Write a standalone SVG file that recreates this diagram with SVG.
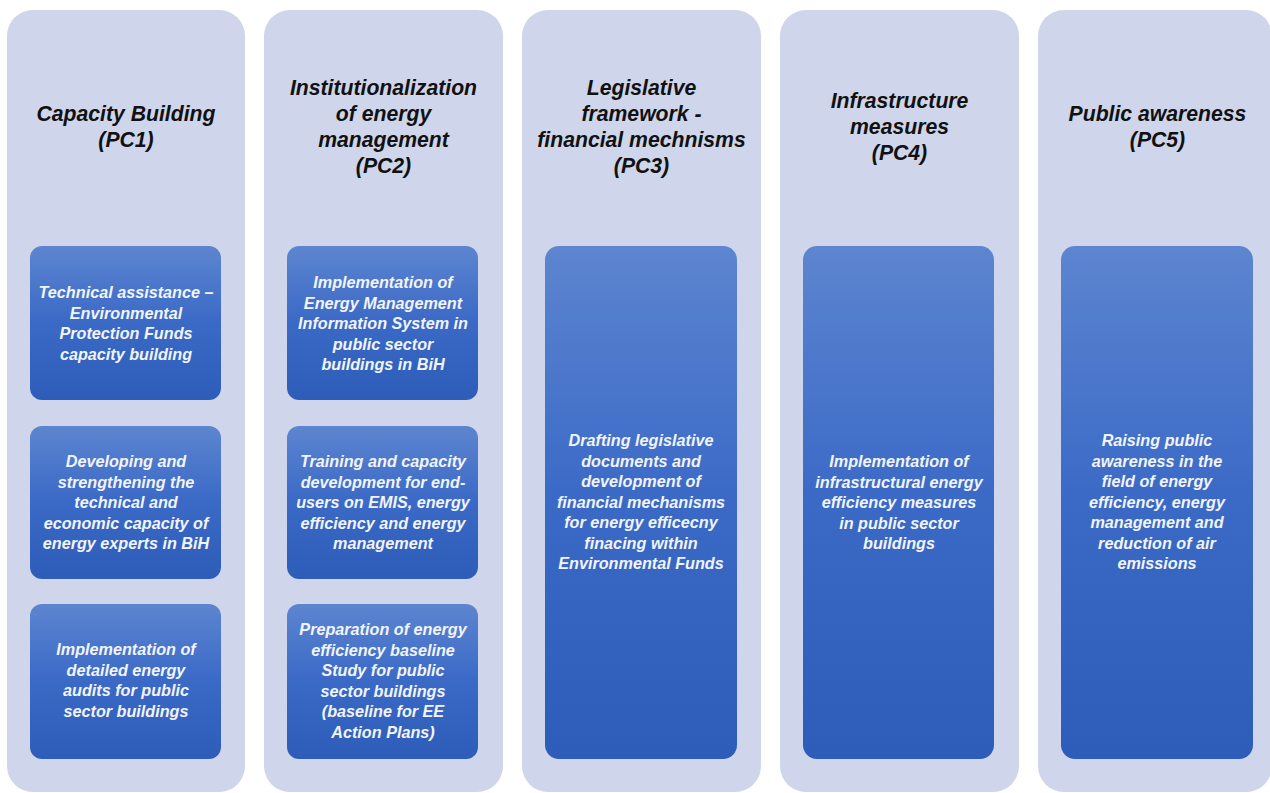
<svg xmlns="http://www.w3.org/2000/svg" width="1270" height="793" viewBox="0 0 1270 793">
  <defs>
    <linearGradient id="blueFill" x1="0" y1="0" x2="0" y2="1">
      <stop offset="0" stop-color="#5D85D0"/>
      <stop offset="0.5" stop-color="#3A69C6"/>
      <stop offset="1" stop-color="#2D5DB8"/>
    </linearGradient>
    <style>
      .col { fill: #CFD5EA; }
      .box { fill: url(#blueFill); }
      .title { font-family: "Liberation Sans", Arial, sans-serif; font-weight: bold; font-style: italic; font-size: 21.2px; fill: #111111; text-anchor: middle; }
      .label { font-family: "Liberation Sans", Arial, sans-serif; font-weight: bold; font-style: italic; font-size: 16.2px; fill: #F2F4FA; text-anchor: middle; }
    </style>
  </defs>

  <rect width="1270" height="793" fill="#FFFFFF"/>

  <!-- PC1 column -->
  <g id="pc1">
    <rect class="col" x="7" y="10" width="238" height="782" rx="26"/>
    <text class="title" x="126"><tspan x="126" y="121">Capacity Building</tspan><tspan x="126" y="147">(PC1)</tspan></text>
  </g>
  <g id="pc1-a">
    <rect class="box" x="30" y="246" width="191" height="154" rx="12"/>
    <text class="label"><tspan x="126" y="298">Technical assistance –</tspan><tspan x="126" y="318.5">Environmental</tspan><tspan x="126" y="339">Protection Funds</tspan><tspan x="126" y="359.5">capacity building</tspan></text>
  </g>
  <g id="pc1-b">
    <rect class="box" x="30" y="426" width="191" height="153" rx="12"/>
    <text class="label"><tspan x="126" y="467">Developing and</tspan><tspan x="126" y="487.5">strengthening the</tspan><tspan x="126" y="508">technical and</tspan><tspan x="126" y="528.5">economic capacity of</tspan><tspan x="126" y="549">energy experts in BiH</tspan></text>
  </g>
  <g id="pc1-c">
    <rect class="box" x="30" y="604" width="191" height="155" rx="12"/>
    <text class="label"><tspan x="126" y="655">Implementation of</tspan><tspan x="126" y="675.5">detailed energy</tspan><tspan x="126" y="696">audits for public</tspan><tspan x="126" y="716.5">sector buildings</tspan></text>
  </g>

  <!-- PC2 column -->
  <g id="pc2">
    <rect class="col" x="264" y="10" width="239" height="782" rx="26"/>
    <text class="title"><tspan x="383.5" y="95">Institutionalization</tspan><tspan x="383.5" y="121">of energy</tspan><tspan x="383.5" y="147">management</tspan><tspan x="383.5" y="173">(PC2)</tspan></text>
  </g>
  <g id="pc2-a">
    <rect class="box" x="287" y="246" width="191" height="154" rx="12"/>
    <text class="label"><tspan x="383" y="288">Implementation of</tspan><tspan x="383" y="308.5">Energy Management</tspan><tspan x="383" y="329">Information System in</tspan><tspan x="383" y="349.5">public sector</tspan><tspan x="383" y="370">buildings in BiH</tspan></text>
  </g>
  <g id="pc2-b">
    <rect class="box" x="287" y="426" width="191" height="153" rx="12"/>
    <text class="label"><tspan x="383" y="467">Training and capacity</tspan><tspan x="383" y="487.5">development for end-</tspan><tspan x="383" y="508">users on EMIS, energy</tspan><tspan x="383" y="528.5">efficiency and energy</tspan><tspan x="383" y="549">management</tspan></text>
  </g>
  <g id="pc2-c">
    <rect class="box" x="287" y="604" width="191" height="155" rx="12"/>
    <text class="label"><tspan x="383" y="635">Preparation of energy</tspan><tspan x="383" y="655.5">efficiency baseline</tspan><tspan x="383" y="676">Study for public</tspan><tspan x="383" y="696.5">sector buildings</tspan><tspan x="383" y="717">(baseline for EE</tspan><tspan x="383" y="737.5">Action Plans)</tspan></text>
  </g>

  <!-- PC3 column -->
  <g id="pc3">
    <rect class="col" x="522" y="10" width="239" height="782" rx="26"/>
    <text class="title"><tspan x="641.5" y="95">Legislative</tspan><tspan x="641.5" y="121">framework -</tspan><tspan x="641.5" y="147">financial mechnisms</tspan><tspan x="641.5" y="173">(PC3)</tspan></text>
  </g>
  <g id="pc3-a">
    <rect class="box" x="545" y="246" width="192" height="513" rx="14"/>
    <text class="label"><tspan x="641" y="446">Drafting legislative</tspan><tspan x="641" y="466.5">documents and</tspan><tspan x="641" y="487">development of</tspan><tspan x="641" y="507.5">financial mechanisms</tspan><tspan x="641" y="528">for energy efficecny</tspan><tspan x="641" y="548.5">finacing within</tspan><tspan x="641" y="569">Environmental Funds</tspan></text>
  </g>

  <!-- PC4 column -->
  <g id="pc4">
    <rect class="col" x="780" y="10" width="239" height="782" rx="26"/>
    <text class="title"><tspan x="899.5" y="108">Infrastructure</tspan><tspan x="899.5" y="134">measures</tspan><tspan x="899.5" y="160">(PC4)</tspan></text>
  </g>
  <g id="pc4-a">
    <rect class="box" x="803" y="246" width="191" height="513" rx="14"/>
    <text class="label"><tspan x="899" y="467">Implementation of</tspan><tspan x="899" y="487.5">infrastructural energy</tspan><tspan x="899" y="508">efficiency measures</tspan><tspan x="899" y="528.5">in public sector</tspan><tspan x="899" y="549">buildings</tspan></text>
  </g>

  <!-- PC5 column -->
  <g id="pc5">
    <rect class="col" x="1038" y="10" width="234" height="782" rx="26"/>
    <text class="title"><tspan x="1157.5" y="121">Public awareness</tspan><tspan x="1157.5" y="147">(PC5)</tspan></text>
  </g>
  <g id="pc5-a">
    <rect class="box" x="1061" y="246" width="192" height="513" rx="14"/>
    <text class="label"><tspan x="1157" y="446">Raising public</tspan><tspan x="1157" y="466.5">awareness in the</tspan><tspan x="1157" y="487">field of energy</tspan><tspan x="1157" y="507.5">efficiency, energy</tspan><tspan x="1157" y="528">management and</tspan><tspan x="1157" y="548.5">reduction of air</tspan><tspan x="1157" y="569">emissions</tspan></text>
  </g>

  <!-- no connectors in this chart -->
  <g id="connectors"/>
</svg>
